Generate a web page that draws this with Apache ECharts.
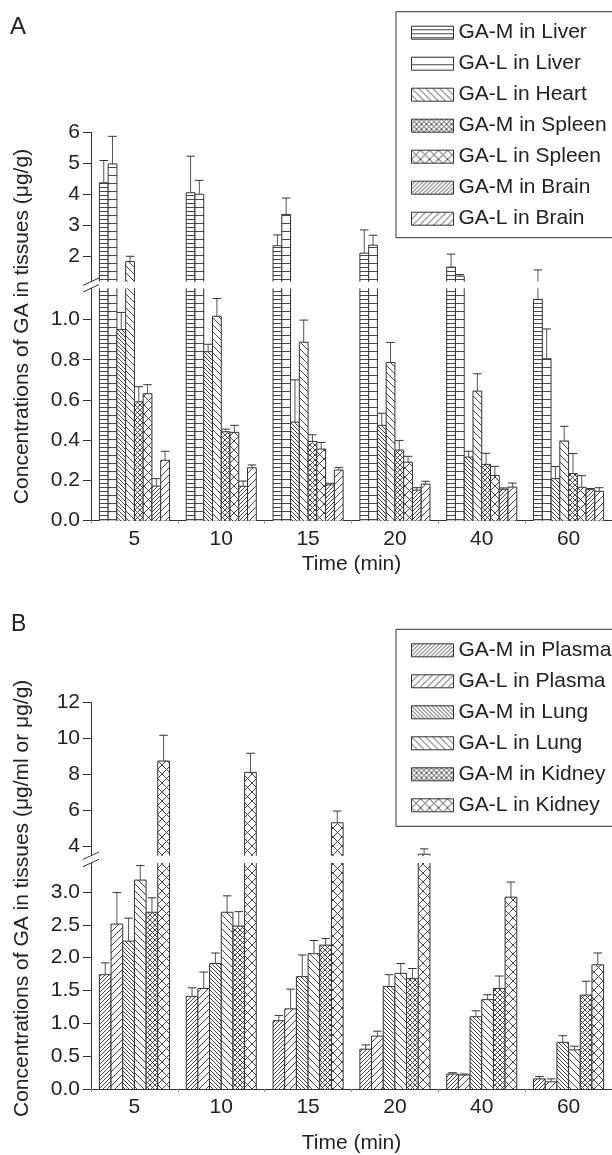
<!DOCTYPE html>
<html><head><meta charset="utf-8">
<script src="https://cdn.jsdelivr.net/npm/echarts@6/dist/echarts.min.js"></script>
<style>html,body{margin:0;padding:0;background:#fff}#c{width:612px;height:1155px}</style>
</head><body><div id="c"></div>
<script>
// ---------------- DATA ----------------
const categories = ['5', '10', '15', '20', '40', '60'];

// Panel A (8 series are drawn; the original legend lists 7)
const namesA = ['GA-M in Liver', 'GA-L in Liver', 'GA-M in Heart', 'GA-L in Heart',
                'GA-M in Spleen', 'GA-L in Spleen', 'GA-M in Brain', 'GA-L in Brain'];
const legendNamesA = ['GA-M in Liver', 'GA-L in Liver', 'GA-L in Heart', 'GA-M in Spleen',
                      'GA-L in Spleen', 'GA-M in Brain', 'GA-L in Brain'];
const mLiver      = [4.37, 4.05, 2.34, 2.10, 1.65, 1.10];
const mLiverErr   = [0.72, 1.18, 0.35, 0.75, 0.42, 0.46];
const lLiver      = [4.98, 4.00, 3.35, 2.36, 1.36, 0.805];
const lLiverErr   = [0.89, 0.45, 0.53, 0.32, 0.05, 0.148];
const mHeart      = [0.95, 0.84, 0.49, 0.474, 0.316, 0.209];
const mHeartErr   = [0.085, 0.037, 0.21, 0.06, 0.029, 0.06];
const lHeart      = [1.83, 1.016, 0.887, 0.786, 0.644, 0.396];
const lHeartErr   = [0.17, 0.088, 0.11, 0.10, 0.086, 0.073];
const mSpleen     = [0.591, 0.442, 0.394, 0.351, 0.28, 0.234];
const mSpleenErr  = [0.075, 0.013, 0.033, 0.048, 0.055, 0.10];
const lSpleen     = [0.631, 0.439, 0.356, 0.291, 0.225, 0.166];
const lSpleenErr  = [0.045, 0.035, 0.033, 0.029, 0.045, 0.058];
const mBrain      = [0.172, 0.171, 0.178, 0.152, 0.156, 0.154];
const mBrainErr   = [0.037, 0.026, 0.008, 0.012, 0.007, 0.006];
const lBrain      = [0.30, 0.263, 0.252, 0.182, 0.167, 0.146];
const lBrainErr   = [0.045, 0.014, 0.013, 0.014, 0.02, 0.018];

// Panel B
const namesB = ['GA-M in Plasma', 'GA-L in Plasma', 'GA-M in Lung', 'GA-L in Lung',
                'GA-M in Kidney', 'GA-L in Kidney'];
const mPlasma     = [1.74, 1.41, 1.04, 0.606, 0.228, 0.154];
const mPlasmaErr  = [0.18, 0.13, 0.08, 0.065, 0.02, 0.035];
const lPlasma     = [2.51, 1.53, 1.22, 0.805, 0.213, 0.109];
const lPlasmaErr  = [0.48, 0.25, 0.30, 0.075, 0.015, 0.045];
const mLung       = [2.25, 1.91, 1.71, 1.56, 1.10, 0.711];
const mLungErr    = [0.35, 0.16, 0.33, 0.18, 0.09, 0.10];
const lLung       = [3.18, 2.69, 2.06, 1.76, 1.36, 0.596];
const lLungErr    = [0.22, 0.25, 0.20, 0.15, 0.075, 0.055];
const mKidney     = [2.69, 2.48, 2.19, 1.68, 1.53, 1.43];
const mKidneyErr  = [0.22, 0.22, 0.10, 0.154, 0.19, 0.21];
const lKidney     = [8.76, 8.13, 5.33, 3.58, 2.92, 1.89];
const lKidneyErr  = [1.43, 1.06, 0.65, 0.30, 0.23, 0.18];

// tick labels
const ticksAUpper = [2, 3, 4, 5, 6];
const ticksALower = [0, 0.2, 0.4, 0.6, 0.8, 1.0];
const ticksBUpper = [4, 6, 8, 10, 12];
const ticksBLower = [0, 0.5, 1.0, 1.5, 2.0, 2.5, 3.0];

// ---------------- STYLE / LAYOUT ----------------
const FONT = '"Liberation Sans", Arial, Helvetica, sans-serif';
const INK = '#222';
const GROUP_FRAC = 0.807;
const GRID_LEFT = 91, GRID_W = 525.6;
const L = {
  aU: { top: 132.3, h: 149.4, min: 1.18, max: 6 },
  aL: { top: 288.3, h: 232.4, min: 0, max: 1.155 },
  bU: { top: 702.7, h: 153, min: 3.5, max: 12 },
  bL: { top: 863, h: 231, min: 0, max: 3.44 }
};

function makePattern(kind, p) {
  const c = document.createElement('canvas');
  c.width = p; c.height = p;
  const g = c.getContext('2d');
  g.fillStyle = '#fff'; g.fillRect(0, 0, p, p);
  g.strokeStyle = '#333'; g.lineWidth = 0.9;
  g.beginPath();
  if (kind === 'h') { g.moveTo(0, p - 0.5); g.lineTo(p, p - 0.5); }
  if (kind === 's' || kind === 'x') {
    g.moveTo(0, p); g.lineTo(p, 0);
    g.moveTo(-p, p); g.lineTo(p, -p);
    g.moveTo(0, 2 * p); g.lineTo(2 * p, 0);
  }
  if (kind === 'b' || kind === 'x') {
    g.moveTo(0, 0); g.lineTo(p, p);
    g.moveTo(-p, 0); g.lineTo(p, 2 * p);
    g.moveTo(0, -p); g.lineTo(2 * p, p);
  }
  g.stroke();
  return { image: c, repeat: 'repeat' };
}
const P = {
  hD: makePattern('h', 4), hS: makePattern('h', 8),
  bD: makePattern('b', 4), bS: makePattern('b', 7),
  sD: makePattern('s', 4), sS: makePattern('s', 7),
  xD: makePattern('x', 5), xS: makePattern('x', 9)
};

function makeRender(pat, idx, n, capW) {
  return function (params, api) {
    const cat = api.value(0), v = api.value(1), e = api.value(2);
    const cs = params.coordSys;
    const yTop = cs.y, yBot = cs.y + cs.height;
    const band = api.size([1, 0])[0];
    const gw = band * GROUP_FRAC, bw = gw / n;
    const cx = api.coord([cat, 0])[0];
    const x0 = cx - gw / 2 + idx * bw, x1 = x0 + bw, xm = (x0 + x1) / 2;
    const yv = api.coord([cat, v])[1];
    const ye = api.coord([cat, v + e])[1];
    const ch = [];
    if (yv < yBot) {
      const top = Math.max(yv, yTop);
      ch.push({ type: 'rect', shape: { x: x0, y: top, width: bw, height: yBot - top },
                style: { fill: pat } });
      if (yv >= yTop) {
        ch.push({ type: 'polyline', shape: { points: [[x0, yBot], [x0, yv], [x1, yv], [x1, yBot]] },
                  style: { stroke: '#333', lineWidth: 1, fill: null } });
      } else {
        ch.push({ type: 'line', shape: { x1: x0, y1: yTop, x2: x0, y2: yBot }, style: { stroke: '#333', lineWidth: 1 } });
        ch.push({ type: 'line', shape: { x1: x1, y1: yTop, x2: x1, y2: yBot }, style: { stroke: '#333', lineWidth: 1 } });
      }
    }
    const sTop = Math.max(ye, yTop), sBot = Math.min(yv, yBot);
    if (sTop < sBot) {
      ch.push({ type: 'line', shape: { x1: xm, y1: sBot, x2: xm, y2: sTop }, style: { stroke: '#555', lineWidth: 1 } });
    }
    if (ye >= yTop && ye <= yBot) {
      ch.push({ type: 'line', shape: { x1: xm - capW / 2, y1: ye, x2: xm + capW / 2, y2: ye }, style: { stroke: '#333', lineWidth: 1 } });
    }
    return { type: 'group', children: ch };
  };
}

const panelA = [
  [mLiver, mLiverErr, P.hD], [lLiver, lLiverErr, P.hS],
  [mHeart, mHeartErr, P.bD], [lHeart, lHeartErr, P.bS],
  [mSpleen, mSpleenErr, P.xD], [lSpleen, lSpleenErr, P.xS],
  [mBrain, mBrainErr, P.sD], [lBrain, lBrainErr, P.sS]
];
const panelB = [
  [mPlasma, mPlasmaErr, P.sD], [lPlasma, lPlasmaErr, P.sS],
  [mLung, mLungErr, P.bD], [lLung, lLungErr, P.bS],
  [mKidney, mKidneyErr, P.xD], [lKidney, lKidneyErr, P.xS]
];

const grids = [L.aU, L.aL, L.bU, L.bL].map(g => ({ left: GRID_LEFT, width: GRID_W, top: g.top, height: g.h }));

function xAx(gi, bottom, nameGap) {
  return {
    type: 'category', gridIndex: gi, data: categories,
    axisLine: { show: bottom, lineStyle: { color: '#333', width: 1 } },
    axisTick: { show: bottom, length: 3, lineStyle: { color: '#999' } },
    axisLabel: { show: bottom, fontFamily: FONT, fontSize: 21, color: INK, margin: 8 },
    splitLine: { show: false },
    name: bottom ? 'Time (min)' : '', nameLocation: 'middle', nameGap: nameGap,
    nameTextStyle: { fontFamily: FONT, fontSize: 21, color: INK }
  };
}
function yAx(gi, g, ticks, dec) {
  return {
    type: 'value', gridIndex: gi, min: g.min, max: g.max,
    axisLine: { show: true, lineStyle: { color: '#333', width: 1 } },
    axisTick: { show: true, length: 8, customValues: ticks, lineStyle: { color: '#333' } },
    axisLabel: { customValues: ticks, fontFamily: FONT, fontSize: 21, color: INK, margin: 11,
                 formatter: v => v.toFixed(dec) },
    splitLine: { show: false }
  };
}

const series = [];
function addPanel(rows, names, gU, gL) {
  rows.forEach((r, i) => {
    const data = categories.map((c, k) => [k, r[0][k], r[1][k]]);
    [gU, gL].forEach(gi => {
      series.push({
        type: 'custom', name: names[i], xAxisIndex: gi, yAxisIndex: gi,
        data: data, encode: { x: 0, y: 1 },
        itemStyle: { color: r[2], borderColor: '#333', borderWidth: 1 },
        renderItem: makeRender(r[2], i, rows.length, 8.5)
      });
    });
  });
}
addPanel(panelA, namesA, 0, 1);
addPanel(panelB, namesB, 2, 3);

function legendCfg(data, top, pad) {
  return {
    data: data, orient: 'vertical', left: 396, top: top, icon: 'rect',
    itemWidth: 42, itemHeight: 13, itemGap: 7, selectedMode: false,
    textStyle: { fontFamily: FONT, fontSize: 21, color: INK, lineHeight: 24 },
    borderColor: '#333', borderWidth: 1, padding: pad,
    itemStyle: { borderColor: '#333', borderWidth: 1 }
  };
}

function breakMarks(upper, lower) {
  const yu = upper.top + upper.h, yl = lower.top;
  return [yu, yl].map(y => ({
    type: 'line', shape: { x1: GRID_LEFT - 8, y1: y + 3.7, x2: GRID_LEFT + 8, y2: y - 3.7 },
    style: { stroke: '#333', lineWidth: 1 }, z: 10
  }));
}
function vText(text, x, y) {
  return { type: 'text', x: x, y: y, rotation: Math.PI / 2,
           style: { text: text, font: '21px ' + FONT, fill: INK, align: 'center', verticalAlign: 'middle',
                    textAlign: 'center', textVerticalAlign: 'middle' } };
}

const chart = echarts.init(document.getElementById('c'), null, { renderer: 'canvas' });
chart.setOption({
  animation: false,
  backgroundColor: '#fff',
  grid: grids,
  xAxis: [xAx(0, false, 0), xAx(1, true, 33), xAx(2, false, 0), xAx(3, true, 44)],
  yAxis: [yAx(0, L.aU, ticksAUpper, 0), yAx(1, L.aL, ticksALower, 1),
          yAx(2, L.bU, ticksBUpper, 0), yAx(3, L.bL, ticksBLower, 1)],
  legend: [legendCfg(legendNamesA, 11.7, [9, 25, 7, 15]), legendCfg(namesB, 629.3, [9, 25, 9, 15])],
  series: series,
  graphic: [
    { type: 'text', x: 10, y: 15, style: { text: 'A', font: '24px ' + FONT, fill: INK } },
    { type: 'text', x: 11, y: 613, style: { text: 'B', font: '23px ' + FONT, fill: INK } },
    vText('Concentrations of GA in tissues (μg/g)', 22, (L.aU.top + L.aL.top + L.aL.h) / 2),
    vText('Concentrations of GA in tissues (μg/ml or μg/g)', 22, (L.bU.top + L.bL.top + L.bL.h) / 2)
  ].concat(breakMarks(L.aU, L.aL), breakMarks(L.bU, L.bL))
});
</script></body></html>
